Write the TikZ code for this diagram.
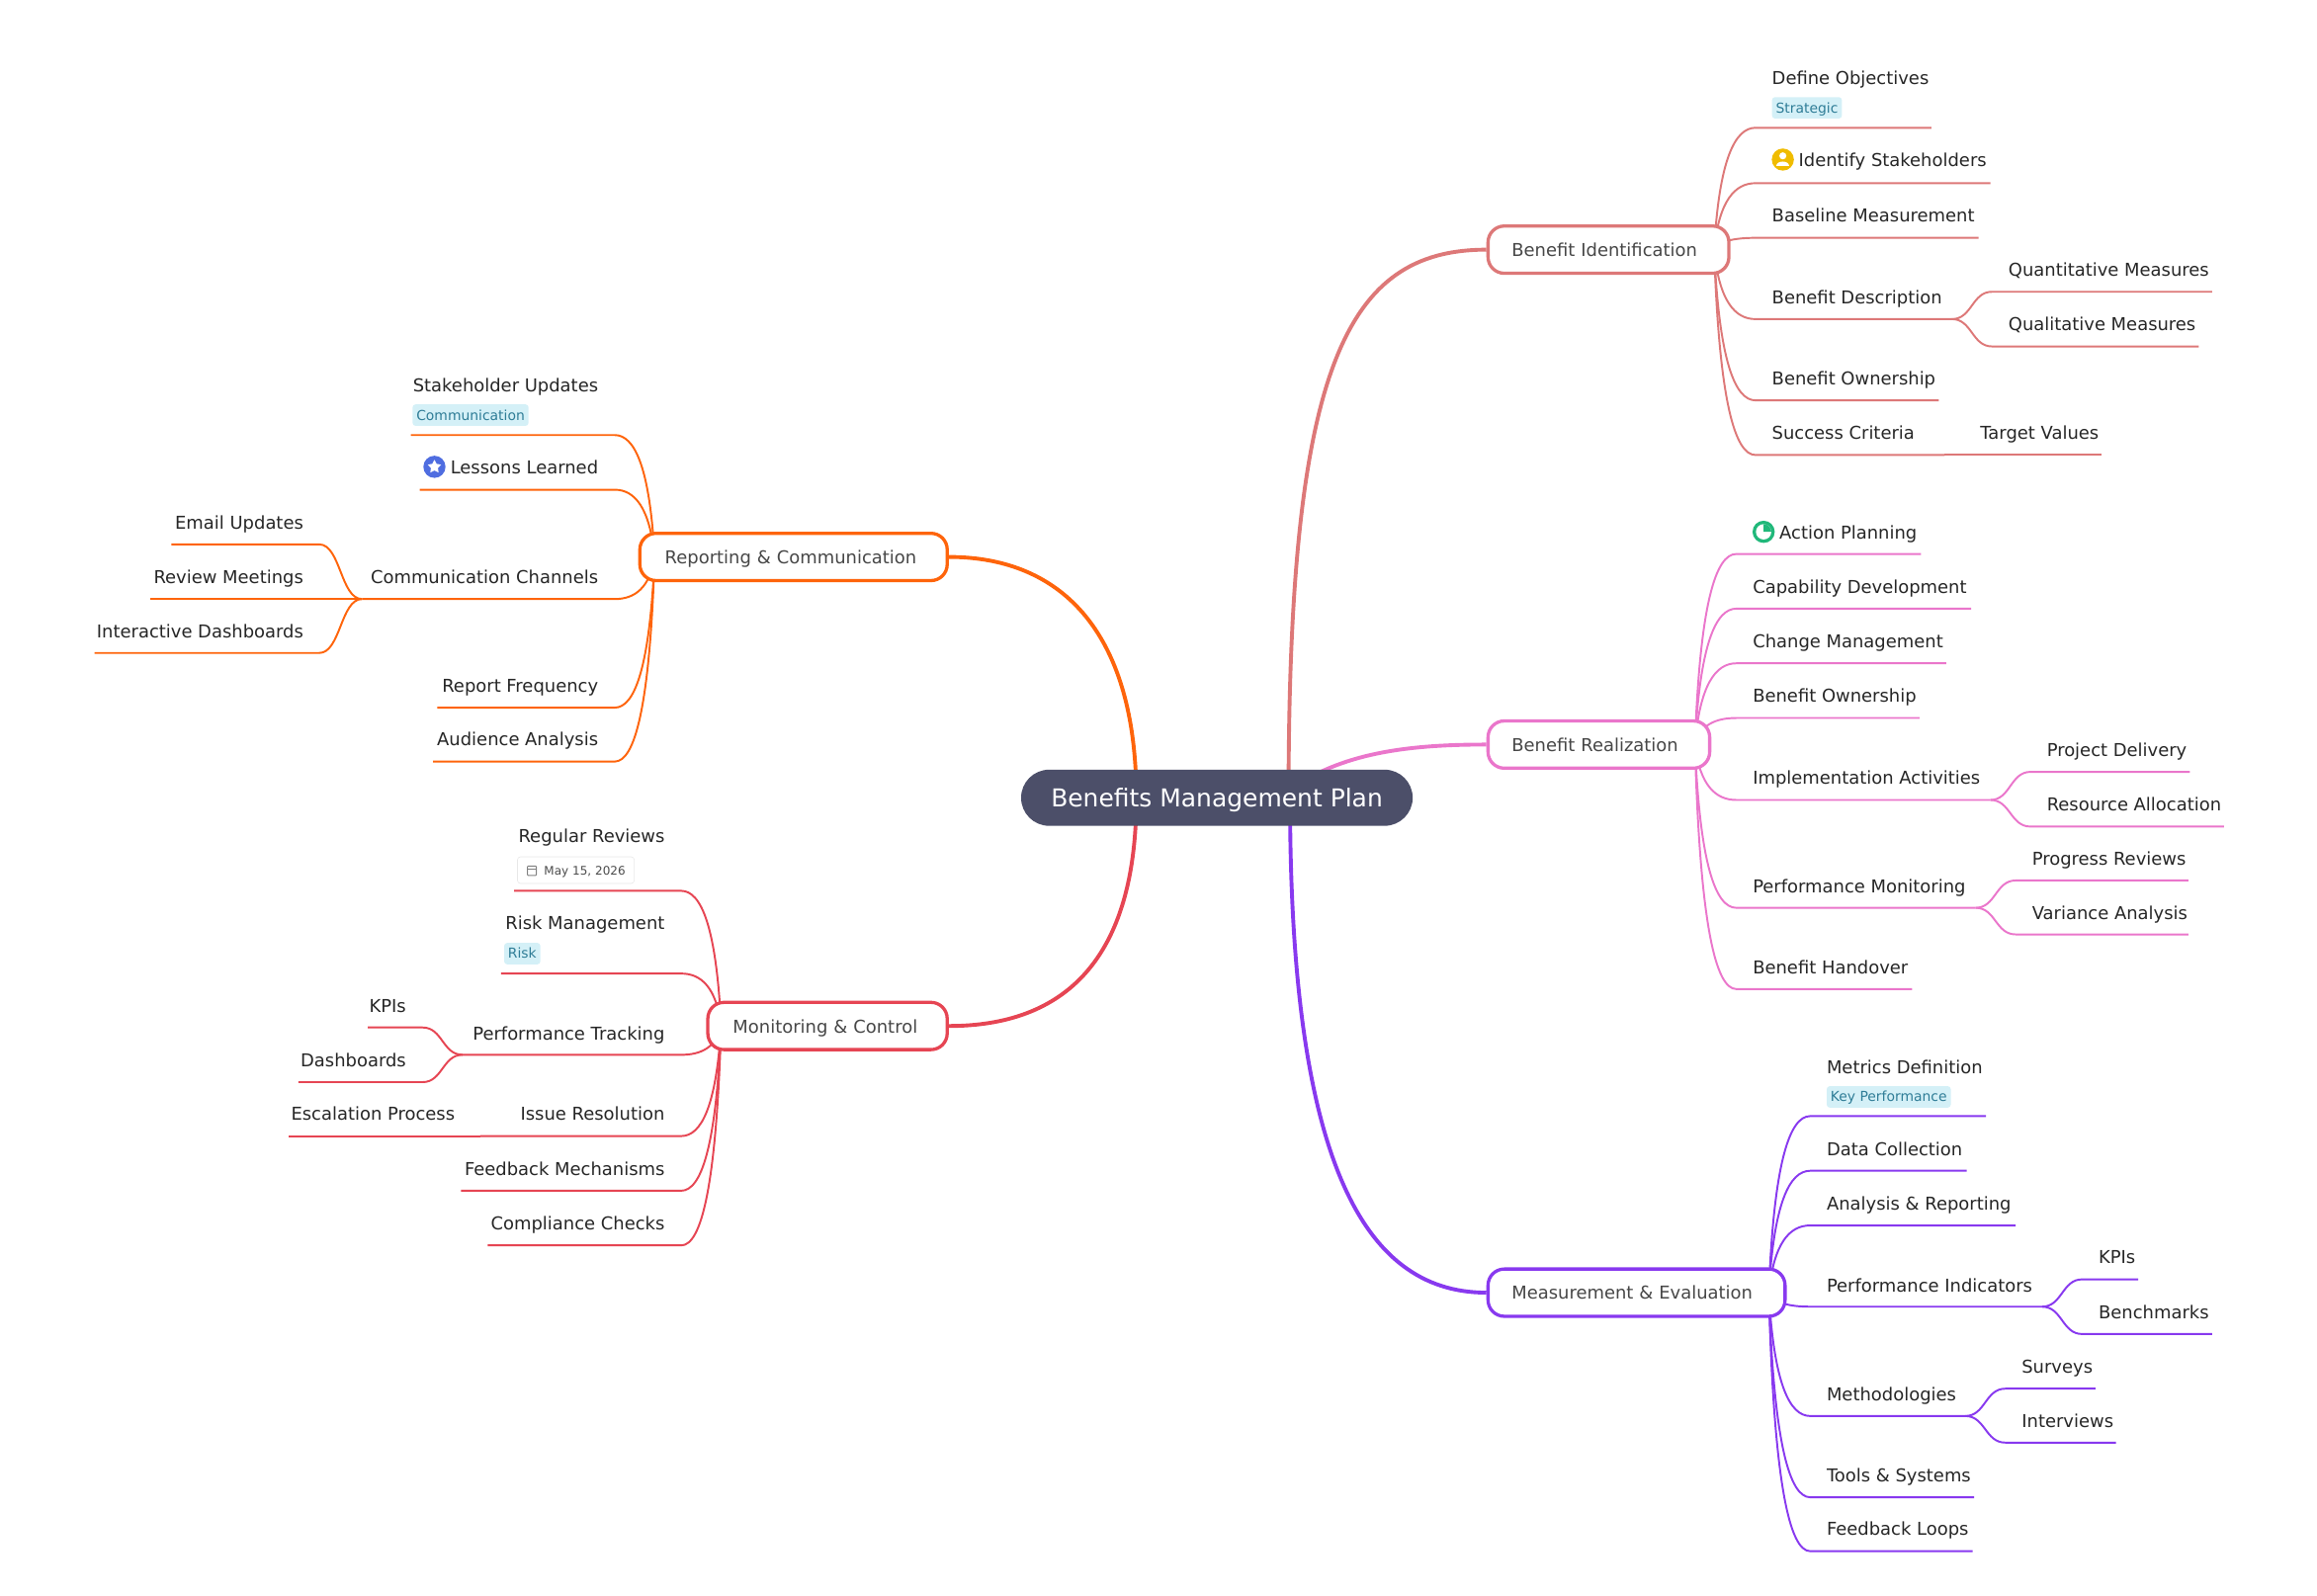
\documentclass[tikz,border=0pt]{standalone}
\usepackage{fontspec}
\setmainfont{DejaVu Sans}
\usetikzlibrary{calc,backgrounds,shapes.geometric}
\definecolor{flam}{HTML}{DD7878}
\definecolor{pinkc}{HTML}{EA76CB}
\definecolor{mauve}{HTML}{8839EF}
\definecolor{maroon}{HTML}{E64553}
\definecolor{peach}{HTML}{FE640B}
\definecolor{rootc}{HTML}{4C4F69}
\definecolor{tagbg}{HTML}{D4F0F7}
\definecolor{tagfg}{HTML}{2F7D97}
\definecolor{icgreen}{HTML}{20B87A}
\definecolor{icyellow}{HTML}{F0BC00}
\definecolor{icblue}{HTML}{4F6DE0}
\tikzset{
  leaftext/.style={inner sep=0pt,text=black!85,font=\fontsize{12}{14}\selectfont},
  rootnode/.style={fill=rootc,text=white,rounded corners=19pt,minimum width=265pt,minimum height=38pt,inner sep=0pt,text height=15pt,text depth=3pt,font=\fontsize{16.7}{20}\selectfont},
  branch/.style={draw=#1,fill=white,line width=2.2pt,rounded corners=11pt,minimum height=32pt,inner sep=0pt,text height=11.5pt,text depth=2.2pt,text=black!72,align=left,font=\fontsize{12}{14}\selectfont},
  tagnode/.style={fill=tagbg,text=tagfg,rounded corners=2pt,inner xsep=2.6pt,inner ysep=0pt,minimum height=14.5pt,text height=8.8pt,text depth=2.1pt,anchor=west,font=\fontsize{9.3}{11}\selectfont},
  datenode/.style={draw=black!9,fill=white,text=black!70,rounded corners=2pt,inner sep=0pt,minimum height=18pt,minimum width=79pt,text height=8pt,text depth=1.8pt,anchor=west,font=\fontsize{8}{10}\selectfont},
  thin line/.style={draw=#1,line width=1.3pt},
  main line/.style={draw=#1,line width=2.6pt},
}
\newcommand\lbl[5]{\node[leaftext,anchor=base #2] (#1) at (#3,{#4+4.5}) {#5};}
\newcommand\leafcn[6]{%
  \coordinate (#1a) at (#3,#4); \coordinate (#1b) at (#5,#4);
  \coordinate (#1p) at ($(#2 |- #1a)!0.3!(#2)$);
  \coordinate (#1c) at ($(#1p)!0.12!(#1a)$);
  \begin{pgfonlayer}{background}
  \draw[thin line=#6] (#2) .. controls (#1c) and ($(#1a)!0.5!(#2 |- #1a)$) .. (#1a) -- (#1b);
  \end{pgfonlayer}}
\newcommand\forkcn[6]{%
  \coordinate (#1a) at (#3,#4); \coordinate (#1b) at (#5,#4);
  \begin{pgfonlayer}{background}
  \draw[thin line=#6] (#2) .. controls ($(#2)!0.5!(#2 -| #1a)$) and ($(#1a)!0.5!(#2 |- #1a)$) .. (#1a) -- (#1b);
  \end{pgfonlayer}}
\begin{document}
\begin{tikzpicture}[x=1pt,y=-1pt]
\useasboundingbox (0,0) rectangle (1568,1080.3);
% root and branches
\node[rootnode] (root) at (823.5,540) {Benefits Management Plan};
\node[branch=flam,minimum width=163pt,text width=131pt] (bi) at (1088.5,169) {Benefit Identification};
\node[branch=pinkc,minimum width=150pt,text width=118pt] (br) at (1082,504) {Benefit Realization};
\node[branch=mauve,minimum width=201pt,text width=169pt] (me) at (1107.5,875) {Measurement \& Evaluation};
\node[branch=peach,minimum width=208pt,text width=174pt] (rc) at (537,377) {Reporting \& Communication};
\node[branch=maroon,minimum width=162pt,text width=128pt] (mc) at (560,694.5) {Monitoring \& Control};
\coordinate (ra) at (872,540); \coordinate (rb) at (873,540); \coordinate (rc0) at (880,530);
\coordinate (rd) at (769,540);
\begin{pgfonlayer}{background}
\draw[main line=flam] (ra) .. controls (872,250) and (910,169) .. (bi.west);
\draw[main line=pinkc] (rc0) .. controls (915,508) and (960,504) .. (br.west);
\draw[main line=mauve] (rb) .. controls (873,780) and (920,875) .. (me.west);
\draw[main line=peach] (rd) .. controls (769,430) and (720,377) .. (rc.east);
\draw[main line=maroon] (rd) .. controls (769,650) and (720,694.5) .. (mc.east);
\end{pgfonlayer}
\coordinate (h1) at (1160,169);
\coordinate (h2) at (1147,504);
\coordinate (h3) at (1197,875);
\coordinate (h4) at (443,377);
\coordinate (h5) at (488,694.5);
% Benefit Identification
\lbl{defobj}{west}{1199}{52.5}{Define Objectives}
\node[tagnode] (tagst) at (1199,73) {Strategic};
\leafcn{ldef}{h1}{1188}{86.5}{1307}{flam}
\fill[icyellow] (1206.5,108) circle (7.5pt);
\fill[white] (1206.5,105.5) circle (2.4pt);
\fill[white] (1202.2,112.5) .. controls (1202.2,108.6) and (1210.8,108.6) .. (1210.8,112.5) -- cycle;
\lbl{idst}{west}{1217}{108.5}{Identify Stakeholders}
\leafcn{lid}{h1}{1188}{124}{1347}{flam}
\lbl{base}{west}{1199}{145.5}{Baseline Measurement}
\leafcn{lbase}{h1}{1188}{161}{1339}{flam}
\lbl{bdesc}{west}{1199}{201}{Benefit Description}
\leafcn{lbd}{h1}{1188}{216}{1321}{flam}
\lbl{quant}{west}{1359}{182.5}{Quantitative Measures}
\forkcn{lqu}{lbdb}{1348}{197.5}{1497}{flam}
\lbl{qual}{west}{1359}{219.5}{Qualitative Measures}
\forkcn{lql}{lbdb}{1348}{234.5}{1488}{flam}
\lbl{bown}{west}{1199}{256}{Benefit Ownership}
\leafcn{lbo}{h1}{1188}{271}{1312}{flam}
\lbl{succ}{west}{1199}{293}{Success Criteria}
\leafcn{lsu}{h1}{1188}{308}{1316}{flam}
\lbl{targ}{west}{1340}{293}{Target Values}
\forkcn{lta}{lsub}{1329}{308}{1422}{flam}
% Benefit Realization
\fill[icgreen] (1193.5,360) circle (7.5pt);
\fill[white] (1193.5,360) circle (5.2pt);
\fill[icgreen] (1193.5,360) -- (1193.5,354.8) arc[start angle=90,end angle=0,radius=5.2pt] -- cycle;
\lbl{act}{west}{1204}{360.5}{Action Planning}
\leafcn{lac}{h2}{1175}{375}{1300}{pinkc}
\lbl{cap}{west}{1186}{397}{Capability Development}
\leafcn{lca}{h2}{1175}{412}{1334}{pinkc}
\lbl{chg}{west}{1186}{434}{Change Management}
\leafcn{lch}{h2}{1175}{449}{1317}{pinkc}
\lbl{bown2}{west}{1186}{471}{Benefit Ownership}
\leafcn{lbw}{h2}{1175}{486}{1299}{pinkc}
\lbl{impl}{west}{1186}{526.5}{Implementation Activities}
\leafcn{lim}{h2}{1175}{541.5}{1347}{pinkc}
\lbl{proj}{west}{1385}{507.5}{Project Delivery}
\forkcn{lpj}{limb}{1374}{522.5}{1482}{pinkc}
\lbl{res}{west}{1385}{544.5}{Resource Allocation}
\forkcn{lre}{limb}{1374}{559.5}{1505}{pinkc}
\lbl{perf}{west}{1186}{600}{Performance Monitoring}
\leafcn{lpe}{h2}{1175}{614.5}{1337}{pinkc}
\lbl{prog}{west}{1375}{581}{Progress Reviews}
\forkcn{lpr}{lpeb}{1364}{596}{1481}{pinkc}
\lbl{vari}{west}{1375}{618}{Variance Analysis}
\forkcn{lva}{lpeb}{1364}{632.5}{1481}{pinkc}
\lbl{hand}{west}{1186}{655}{Benefit Handover}
\leafcn{lha}{h2}{1175}{669.5}{1294}{pinkc}
% Measurement
\lbl{metr}{west}{1236}{722}{Metrics Definition}
\node[tagnode] (tagkp) at (1236,742.5) {Key Performance};
\leafcn{lme}{h3}{1225}{755.5}{1344}{mauve}
\lbl{data}{west}{1236}{778}{Data Collection}
\leafcn{lda}{h3}{1225}{792.5}{1331}{mauve}
\lbl{anal}{west}{1236}{814.5}{Analysis \& Reporting}
\leafcn{lan}{h3}{1225}{829.5}{1364}{mauve}
\lbl{pind}{west}{1236}{870}{Performance Indicators}
\leafcn{lpi}{h3}{1225}{884.5}{1382}{mauve}
\lbl{kpi}{west}{1420}{851}{KPIs}
\forkcn{lkp}{lpib}{1409}{866}{1447}{mauve}
\lbl{bench}{west}{1420}{888}{Benchmarks}
\forkcn{lbn}{lpib}{1409}{903}{1497}{mauve}
\lbl{meth}{west}{1236}{943.5}{Methodologies}
\leafcn{lmt}{h3}{1225}{958.5}{1330}{mauve}
\lbl{surv}{west}{1368}{925}{Surveys}
\forkcn{lsv}{lmtb}{1357}{940}{1418}{mauve}
\lbl{inte}{west}{1368}{962}{Interviews}
\forkcn{lin}{lmtb}{1357}{976.5}{1432}{mauve}
\lbl{tool}{west}{1236}{998.5}{Tools \& Systems}
\leafcn{lto}{h3}{1225}{1013.5}{1336}{mauve}
\lbl{feed}{west}{1236}{1035}{Feedback Loops}
\leafcn{lfe}{h3}{1225}{1050}{1335}{mauve}
% Reporting
\lbl{stak}{east}{405}{260.5}{Stakeholder Updates}
\node[tagnode] (tagco) at (279,281) {Communication};
\leafcn{lsk}{h4}{416}{294.5}{278}{peach}
\fill[icblue] (294,316) circle (7.5pt);
\node[star,star points=5,star point ratio=1.9,fill=white,minimum size=9.5pt,inner sep=0pt] (ic2) at (294,316) {};
\lbl{less}{east}{405}{316.5}{Lessons Learned}
\leafcn{lle}{h4}{416}{331.5}{284}{peach}
\lbl{comm}{east}{405}{390.5}{Communication Channels}
\leafcn{lcm}{h4}{416}{405.5}{245}{peach}
\lbl{emai}{east}{205.5}{353.5}{Email Updates}
\forkcn{lem}{lcmb}{216}{368.5}{116}{peach}
\lbl{revm}{east}{205.5}{390.5}{Review Meetings}
\forkcn{lrv}{lcmb}{216}{405.5}{102}{peach}
\lbl{inta}{east}{205.5}{427}{Interactive Dashboards}
\forkcn{lia}{lcmb}{216}{442}{64}{peach}
\lbl{freq}{east}{405}{464}{Report Frequency}
\leafcn{lfr}{h4}{416}{479}{296}{peach}
\lbl{audi}{east}{405}{500.5}{Audience Analysis}
\leafcn{lau}{h4}{416}{515.5}{293}{peach}
% Monitoring
\lbl{regr}{east}{450}{565.5}{Regular Reviews}
\node[datenode,text width=79pt,align=right] (date) at (350,589) {May 15, 2026\hspace{6pt}\hspace{6pt}};
\draw[black!50,line width=0.6pt,rounded corners=0.5pt] (357,586.2) rectangle (363,592.6);
\draw[black!50,line width=0.6pt] (357,588.2) -- (363,588.2);
\leafcn{lrr}{h5}{461}{603}{348}{maroon}
\lbl{risk}{east}{450}{624.5}{Risk Management}
\node[tagnode] (tagri) at (341,645.5) {Risk};
\leafcn{lrk}{h5}{461}{659}{339}{maroon}
\lbl{pert}{east}{450}{699.5}{Performance Tracking}
\leafcn{lpt}{h5}{461}{714}{313}{maroon}
\lbl{kpi2}{east}{275}{680.5}{KPIs}
\forkcn{lk2}{lptb}{286}{695.5}{249}{maroon}
\lbl{dash}{east}{275}{717.5}{Dashboards}
\forkcn{lds}{lptb}{286}{732.5}{202}{maroon}
\lbl{issu}{east}{450}{754}{Issue Resolution}
\leafcn{lis}{h5}{461}{769}{325}{maroon}
\lbl{esca}{east}{308}{754}{Escalation Process}
\forkcn{les}{lisb}{319}{769}{195}{maroon}
\lbl{fbm}{east}{450}{791}{Feedback Mechanisms}
\leafcn{lfm}{h5}{461}{806}{312}{maroon}
\lbl{cmpl}{east}{450}{828}{Compliance Checks}
\leafcn{lcc}{h5}{461}{843}{330}{maroon}
\end{tikzpicture}
\end{document}
